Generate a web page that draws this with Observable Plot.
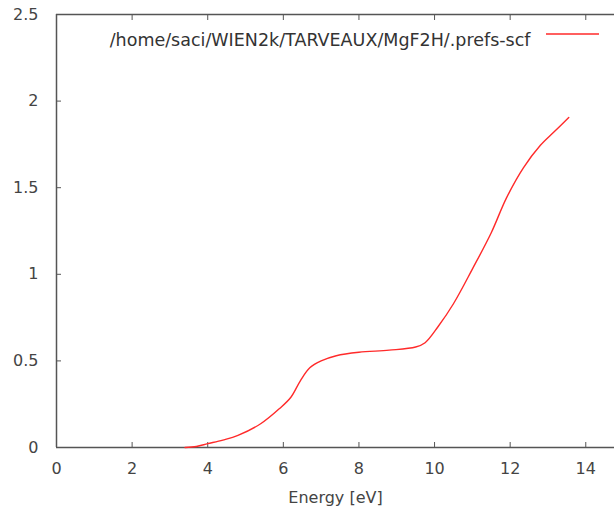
<!DOCTYPE html>
<html>
<head>
<meta charset="utf-8">
<script src="https://cdn.jsdelivr.net/npm/d3@7"></script>
<script src="https://cdn.jsdelivr.net/npm/@observablehq/plot@0.6"></script>
<style>
  html, body { margin: 0; padding: 0; background: #fff; overflow: hidden; }
  #chart svg { display: block; }
</style>
</head>
<body>
<div id="chart"></div>
<script>
const energy = [3.4, 3.7, 4.0, 4.4, 4.8, 5.4, 5.9, 6.2, 6.45, 6.7, 7.0, 7.4, 8.0, 8.8, 9.5, 9.75, 10.1, 10.5, 11.0, 11.5, 11.9, 12.35, 12.8, 13.15, 13.55];
const value  = [0.0, 0.006, 0.022, 0.043, 0.07, 0.137, 0.225, 0.29, 0.385, 0.46, 0.50, 0.53, 0.55, 0.562, 0.58, 0.605, 0.70, 0.83, 1.03, 1.24, 1.44, 1.615, 1.745, 1.82, 1.905];
const xTicks = [0, 2, 4, 6, 8, 10, 12, 14];
const yTicks = [0, 0.5, 1, 1.5, 2, 2.5];
const seriesName = "/home/saci/WIEN2k/TARVEAUX/MgF2H/.prefs-scf";
const xLabel = "Energy [eV]";

const data = energy.map((e, i) => ({x: e, y: value[i]}));
const axisColor = "#555";
const textColor = "#444";

const chart = Plot.plot({
  width: 614,
  height: 517,
  marginLeft: 56,
  marginRight: 0,
  marginTop: 14,
  marginBottom: 70,
  style: {fontFamily: "DejaVu Sans", fontSize: "16px", color: textColor, background: "#fff"},
  x: {domain: [0, 14.76], label: null},
  y: {domain: [0, 2.5], label: null},
  marks: [
    Plot.ruleY([0, 2.5], {stroke: axisColor, strokeWidth: 1.5}),
    Plot.ruleX([0], {stroke: axisColor, strokeWidth: 1.5}),
    Plot.axisX({ticks: xTicks, tickSize: 0, tickPadding: 15, tickFormat: d => String(d), fill: textColor, fontSize: 16}),
    Plot.axisX({ticks: xTicks, tickSize: -5, tickFormat: () => "", stroke: axisColor}),
    Plot.axisX({ticks: xTicks, anchor: "top", tickSize: -5, tickFormat: () => "", stroke: axisColor}),
    Plot.axisY({ticks: yTicks, tickSize: 0, tickPadding: 18, tickFormat: d => String(d), fill: textColor, fontSize: 16}),
    Plot.axisY({ticks: yTicks, tickSize: -5, tickFormat: () => "", stroke: axisColor}),
    Plot.line(data, {x: "x", y: "y", stroke: "#ff2a2a", strokeWidth: 1.4, curve: "catmull-rom"}),
    Plot.text([seriesName], {frameAnchor: "top-right", text: d => d, dx: -84, dy: 19, textAnchor: "end", fill: "#333", fontSize: 17.5}),
    Plot.text([xLabel], {frameAnchor: "bottom", text: d => d, dy: 55, fill: textColor, fontSize: 16})
  ]
});

// legend sample line
d3.select(chart).append("line")
  .attr("x1", 546).attr("x2", 599)
  .attr("y1", 34).attr("y2", 34)
  .attr("stroke", "#ff2a2a").attr("stroke-width", 1.4);

document.getElementById("chart").appendChild(chart);
</script>
</body>
</html>
